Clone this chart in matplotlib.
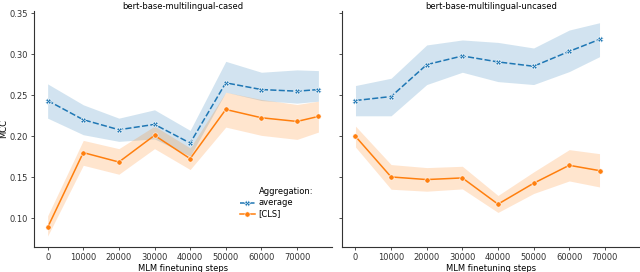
import numpy as np
import matplotlib
matplotlib.use("Agg")
from matplotlib import pyplot as plt
from matplotlib.lines import Line2D

# cased model
steps_c = [0, 10000, 20000, 30000, 40000, 50000, 60000, 70000, 76000]
avg_c = [0.2438, 0.2204, 0.2082, 0.2147, 0.1919, 0.2654, 0.2572, 0.2552, 0.2572]
avg_c_lo = [0.2223, 0.2021, 0.1940, 0.1970, 0.1760, 0.2540, 0.2438, 0.2406, 0.2430]
avg_c_hi = [0.2641, 0.2386, 0.2223, 0.2325, 0.2074, 0.2916, 0.2783, 0.2812, 0.2803]
cls_c = [0.0890, 0.1803, 0.1688, 0.2013, 0.1729, 0.2329, 0.2228, 0.2183, 0.2244]
cls_c_lo = [0.0785, 0.1648, 0.1539, 0.1851, 0.1596, 0.2114, 0.2013, 0.1964, 0.2053]
cls_c_hi = [0.1032, 0.1952, 0.1851, 0.2126, 0.1860, 0.2540, 0.2451, 0.2390, 0.2430]

# uncased model
steps_u = [0, 10000, 20000, 30000, 40000, 50000, 60000, 68500]
avg_u = [0.2438, 0.2487, 0.2876, 0.2982, 0.2909, 0.2856, 0.3038, 0.3184]
avg_u_lo = [0.2252, 0.2252, 0.2633, 0.2783, 0.2669, 0.2633, 0.2791, 0.2973]
avg_u_hi = [0.2621, 0.2710, 0.3116, 0.3177, 0.3147, 0.3079, 0.3298, 0.3387]
cls_u = [0.2001, 0.1506, 0.1474, 0.1494, 0.1174, 0.1429, 0.1648, 0.1583]
cls_u_lo = [0.1871, 0.1356, 0.1332, 0.1360, 0.1073, 0.1304, 0.1457, 0.1384]
cls_u_hi = [0.2126, 0.1657, 0.1620, 0.1636, 0.1280, 0.1567, 0.1839, 0.1790]

titles = ["bert-base-multilingual-cased", "bert-base-multilingual-uncased"]
xticks = [0, 10000, 20000, 30000, 40000, 50000, 60000, 70000]
yticks = [0.10, 0.15, 0.20, 0.25, 0.30, 0.35]

blue = "#1f77b4"
orange = "#ff7f0e"

fig = plt.figure(figsize=(6.4, 2.72), dpi=100)
ax1 = fig.add_axes([0.053, 0.093, 0.466, 0.868])
ax2 = fig.add_axes([0.534, 0.093, 0.466, 0.868], sharex=ax1, sharey=ax1)

data = [
    (steps_c, avg_c, avg_c_lo, avg_c_hi, cls_c, cls_c_lo, cls_c_hi),
    (steps_u, avg_u, avg_u_lo, avg_u_hi, cls_u, cls_u_lo, cls_u_hi),
]

for ax, d, t in zip([ax1, ax2], data, titles):
    x, a, alo, ahi, c, clo, chi = d
    ax.fill_between(x, alo, ahi, color=blue, alpha=0.2, lw=0)
    ax.fill_between(x, clo, chi, color=orange, alpha=0.2, lw=0)
    ax.plot(x, a, color=blue, lw=1.1, dashes=(4, 1.5), marker="X", ms=4,
            mec="white", mew=0.4)
    ax.plot(x, c, color=orange, lw=1.1, marker="o", ms=3.8,
            mec="white", mew=0.4)
    ax.set_title(t, fontsize=6, pad=0)
    ax.spines["top"].set_visible(False)
    ax.spines["right"].set_visible(False)
    for s in ["left", "bottom"]:
        ax.spines[s].set_linewidth(0.8)
        ax.spines[s].set_color("#333333")
    ax.tick_params(labelsize=6, length=2.5, width=0.6, pad=2, colors="#333333")
    ax.set_xlabel("MLM finetuning steps", fontsize=6, labelpad=1.5)

ax1.set_xlim(-3850, 79860)
ax1.set_ylim(0.0655, 0.3535)
ax1.set_xticks(xticks)
ax1.set_yticks(yticks)
ax1.set_ylabel("MCC", fontsize=6, labelpad=1)
plt.setp(ax2.get_yticklabels(), visible=False)

handles = [
    Line2D([], [], color="none"),
    Line2D([], [], color=blue, lw=1.1, dashes=(4, 1.5), marker="X", ms=4, mec="white", mew=0.4),
    Line2D([], [], color=orange, lw=1.1, marker="o", ms=3.8, mec="white", mew=0.4),
]
labels = ["Aggregation:", "average", "[CLS]"]
ax1.legend(handles, labels, loc="upper left", bbox_to_anchor=(0.67, 0.276),
           frameon=False, fontsize=6, handlelength=1.8, handletextpad=0.5,
           labelspacing=0.25, borderpad=0.2)

fig.savefig("out.png", dpi=100)
